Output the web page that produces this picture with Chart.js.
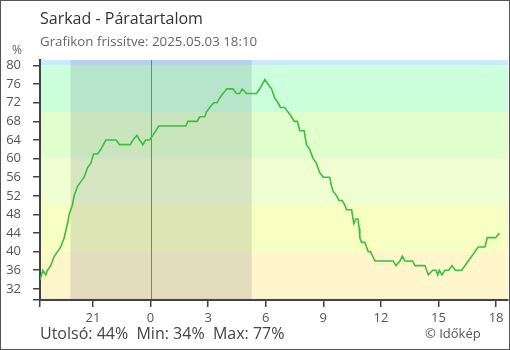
<!DOCTYPE html>
<html>
<head>
<meta charset="utf-8">
<script src="https://cdn.jsdelivr.net/npm/chart.js@4"></script>
<style>
  html, body { margin: 0; padding: 0; background: #fff; }
</style>
</head>
<body>
<canvas id="chart" width="510" height="350"></canvas>
<script>
/* DATA */
const stationName = "Sarkad";
const updatedAt = "2025.05.03 18:10";

// hours relative to midnight (negative = previous evening)
const hours = [
  -5.75, -5.61, -5.46, -5.37, -5.20, -5.02, -4.85, -4.68, -4.50, -4.33,
  -4.24, -4.07, -3.98, -3.81, -3.64, -3.46, -3.29, -3.11, -2.97, -2.76,
  -2.59, -2.33, -2.24, -1.79, -1.62, -1.06, -0.92, -0.71, -0.57, -0.40,
  -0.26, -0.05, 0.12, 0.43, 1.83, 1.95, 2.42, 2.56, 2.82, 2.91,
  3.08, 3.29, 3.46, 3.60, 3.77, 3.98, 4.29, 4.47, 4.64, 4.78,
  4.99, 5.51, 5.69, 5.95, 6.12, 6.30, 6.47, 6.64, 6.77, 6.99,
  7.16, 7.34, 7.48, 7.65, 7.77, 8.00, 8.12, 8.29, 8.47, 8.64,
  8.81, 8.99, 9.16, 9.33, 9.43, 9.51, 9.69, 9.82, 9.98, 10.12,
  10.21, 10.47, 10.59, 10.69, 10.80, 10.87, 10.90, 10.99, 11.16, 11.25,
  11.34, 11.46, 11.57, 11.69, 12.64, 12.78, 12.99, 13.11, 13.25, 13.65,
  13.77, 14.29, 14.47, 14.70, 14.87, 14.96, 15.04, 15.18, 15.33, 15.53,
  15.70, 15.87, 16.21, 16.38, 16.55, 16.73, 16.90, 17.07, 17.42, 17.54,
  17.98, 18.17
];
const humidity = [
  34, 36, 35, 36, 37, 39, 40, 41, 43, 46,
  48, 50, 52, 54, 55, 56, 58, 59, 61, 61,
  62, 64, 64, 64, 63, 63, 64, 65, 64, 63,
  64, 64, 65, 67, 67, 68, 68, 69, 69, 70,
  71, 72, 72, 73, 74, 75, 75, 74, 74, 75,
  74, 74, 75, 77, 76, 75, 73, 72, 71, 71,
  70, 69, 68, 68, 66, 66, 63, 62, 60, 59,
  57, 56, 56, 56, 54, 53, 52, 51, 51, 50,
  49, 49, 46, 47, 47, 45, 43, 42, 42, 41,
  40, 40, 39, 38, 38, 37, 38, 39, 38, 38,
  37, 37, 35, 36, 36, 35, 36, 35, 36, 36,
  37, 36, 36, 37, 38, 39, 40, 41, 41, 43,
  43, 44
];

const xTickValues = [-3, 0, 3, 6, 9, 12, 15, 18];
const xTickLabels = ["21", "0", "3", "6", "9", "12", "15", "18"];
const yTickValues = [32, 36, 40, 44, 48, 52, 56, 60, 64, 68, 72, 76, 80];

// humidity zones behind the curve
const bandEdges = [0, 30, 40, 50, 60, 70, 80, 100];
const bandColors = ["#ffe2d4", "#fff6cc", "#f7ffc2", "#f0ffd2", "#e1ffcc", "#ccffdc", "#cce9ff"];

// night between sunset and sunrise
const sunset = -4.17;
const sunrise = 5.27;

const FONT = '"Open Sans", "Noto Sans", sans-serif';

/* BACKGROUND + TEXTS */
const framePlugin = {
  id: "frame",
  beforeDraw(chart) {
    const { ctx, chartArea: a, scales: { x, y } } = chart;
    ctx.save();
    ctx.fillStyle = "#fff";
    ctx.fillRect(0, 0, chart.width, chart.height);

    ctx.beginPath();
    ctx.rect(a.left, a.top, a.right - a.left, a.bottom - a.top);
    ctx.clip();

    for (let i = 0; i < bandColors.length; i++) {
      const top = y.getPixelForValue(bandEdges[i + 1]);
      const bot = y.getPixelForValue(bandEdges[i]);
      ctx.fillStyle = bandColors[i];
      ctx.fillRect(a.left, top, a.right - a.left, bot - top);
    }

    const n1 = x.getPixelForValue(sunset);
    const n2 = x.getPixelForValue(sunrise);
    ctx.fillStyle = "rgba(30,40,80,0.12)";
    ctx.fillRect(n1, a.top, n2 - n1, a.bottom - a.top);

    const mid = Math.round(x.getPixelForValue(0)) + 0.5;
    ctx.strokeStyle = "#3d8fd1";
    ctx.lineWidth = 1;
    ctx.beginPath();
    ctx.moveTo(mid, a.top);
    ctx.lineTo(mid, a.bottom);
    ctx.stroke();
    ctx.restore();
  },
  afterDraw(chart) {
    const { ctx } = chart;
    ctx.save();
    ctx.strokeStyle = "#555";
    ctx.lineWidth = 1;
    ctx.strokeRect(0.5, 0.5, chart.width - 1, chart.height - 1);

    ctx.textBaseline = "alphabetic";
    ctx.textAlign = "left";
    ctx.fillStyle = "#333";
    ctx.font = "16px " + FONT;
    ctx.fillText(stationName + " - Páratartalom", 40, 24);

    ctx.fillStyle = "#666";
    ctx.font = "13.3px " + FONT;
    ctx.fillText("Grafikon frissítve: " + updatedAt, 40, 46);

    ctx.font = "12px " + FONT;
    ctx.fillText("%", 12, 54);

    const last = humidity[humidity.length - 1];
    const min = Math.min(...humidity);
    const max = Math.max(...humidity);
    ctx.fillStyle = "#444";
    ctx.font = "16px " + FONT;
    ctx.fillText("Utolsó: " + last + "%  Min: " + min + "%  Max: " + max + "%", 40, 339);

    ctx.fillStyle = "#555";
    ctx.font = "13px " + FONT;
    ctx.fillText("© Időkép", 425, 338);
    ctx.restore();
  }
};

/* CHART */
new Chart(document.getElementById("chart"), {
  type: "line",
  data: {
    datasets: [{
      data: hours.map((h, i) => ({ x: h, y: humidity[i] })),
      borderColor: "#3cbf3c",
      borderWidth: 1.6,
      pointRadius: 0,
      tension: 0,
      fill: false
    }]
  },
  options: {
    responsive: false,
    animation: false,
    layout: { padding: { top: 60, right: 2, left: 0, bottom: 0 } },
    plugins: { legend: { display: false }, tooltip: { enabled: false }, title: { display: false } },
    scales: {
      x: {
        type: "linear",
        min: -5.76,
        max: 18.62,
        afterBuildTicks: s => { s.ticks = [s.min, ...xTickValues].map(v => ({ value: v })); },
        afterFit: s => { s.height = 50; },
        ticks: {
          autoSkip: false,
          maxRotation: 0,
          padding: 3,
          color: "#555",
          font: { family: FONT, size: 13 },
          callback: v => {
            const i = xTickValues.indexOf(v);
            return i < 0 ? "" : xTickLabels[i];
          }
        },
        grid: { drawOnChartArea: false, drawTicks: true, tickLength: 7, color: "#444", lineWidth: 1.5 },
        border: { display: true, color: "#444", width: 2 }
      },
      y: {
        min: 29.6,
        max: 81.2,
        afterBuildTicks: s => { s.ticks = [s.min, ...yTickValues].map(v => ({ value: v })); },
        afterFit: s => { s.width = 40; },
        ticks: {
          autoSkip: false,
          padding: 12,
          color: "#555",
          font: { family: FONT, size: 13 },
          callback: v => (yTickValues.includes(v) ? String(v) : "")
        },
        grid: { drawOnChartArea: false, drawTicks: true, tickLength: 7, color: "#444", lineWidth: 1.5 },
        border: { display: true, color: "#444", width: 2 }
      }
    }
  },
  plugins: [framePlugin]
});
</script>
</body>
</html>
